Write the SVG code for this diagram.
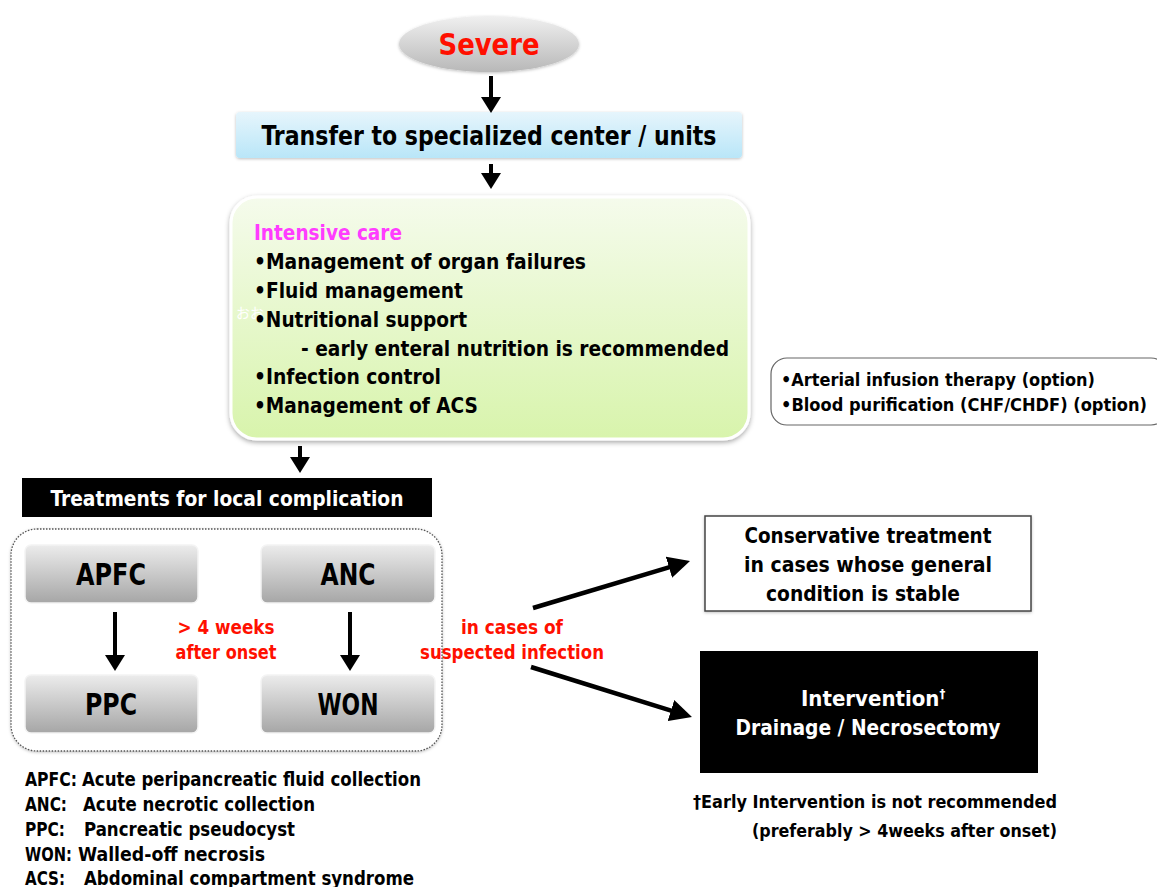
<svg xmlns="http://www.w3.org/2000/svg" width="1157" height="887" viewBox="0 0 1157 887">
<defs>
<linearGradient id="gEll" x1="0" y1="0" x2="0" y2="1"><stop offset="0" stop-color="#f0f0f0"/><stop offset="1" stop-color="#b8b8b8"/></linearGradient>
<linearGradient id="gBlue" x1="0" y1="0" x2="0" y2="1"><stop offset="0" stop-color="#e6f5fc"/><stop offset="1" stop-color="#b9e6f8"/></linearGradient>
<linearGradient id="gGreen" x1="0" y1="0" x2="0" y2="1"><stop offset="0" stop-color="#f5fbec"/><stop offset="1" stop-color="#d8f4ac"/></linearGradient>
<linearGradient id="gGray" x1="0" y1="0" x2="0" y2="1"><stop offset="0" stop-color="#ececec"/><stop offset="1" stop-color="#a6a6a6"/></linearGradient>
<filter id="sh" x="-10%" y="-10%" width="120%" height="130%"><feDropShadow dx="0" dy="2" stdDeviation="2.5" flood-color="#000" flood-opacity="0.35"/></filter>
<filter id="sh2" x="-10%" y="-10%" width="120%" height="130%"><feDropShadow dx="0" dy="1" stdDeviation="1.5" flood-color="#000" flood-opacity="0.25"/></filter>
<marker id="ah" markerUnits="userSpaceOnUse" markerWidth="20" markerHeight="20" refX="4" refY="10" orient="auto"><path d="M0,0 L16,10 L0,20 z" fill="#000"/></marker>
<marker id="ah2" markerUnits="userSpaceOnUse" markerWidth="24" markerHeight="24" refX="6" refY="12" orient="auto"><path d="M0,1 L22,12 L0,23 z" fill="#000"/></marker>
<style>
text{font-family:"Liberation Sans Narrow","DejaVu Sans Condensed","Liberation Sans",sans-serif;font-weight:bold;}
.c{text-anchor:middle;}
.red{fill:#ff1000;}
.wh{fill:#fff;}
.arr{stroke:#000;stroke-width:4;fill:none;marker-end:url(#ah);}
.darr{stroke:#000;stroke-width:4.5;fill:none;marker-end:url(#ah2);}
.gbox{fill:url(#gGray);stroke:#f4f4f4;stroke-width:1.5;}
</style>
</defs>
<rect width="1157" height="887" fill="#fff"/>

<g id="severe">
<ellipse cx="489" cy="44" rx="90" ry="28" fill="url(#gEll)" filter="url(#sh2)"/>
<text class="c red" x="489" y="55" font-size="31" textLength="101" lengthAdjust="spacingAndGlyphs">Severe</text>
</g>

<g id="transfer">
<rect x="236" y="112" width="506" height="46" rx="4" fill="url(#gBlue)" filter="url(#sh2)"/>
<text class="c" x="489" y="145" font-size="26" textLength="455" lengthAdjust="spacingAndGlyphs">Transfer to specialized center / units</text>
</g>

<g id="intensive">
<rect x="231" y="197" width="518" height="242" rx="26" fill="url(#gGreen)" stroke="#fff" stroke-width="3" filter="url(#sh)"/>
<text x="254" y="240" font-size="21" fill="#ff3cff" textLength="148" lengthAdjust="spacingAndGlyphs">Intensive care</text>
<text x="254" y="269" font-size="21" textLength="332" lengthAdjust="spacingAndGlyphs">•Management of organ failures</text>
<text x="254" y="298" font-size="21" textLength="209" lengthAdjust="spacingAndGlyphs">•Fluid management</text>
<text x="236" y="318" font-size="14" fill="#fff" style="font-family:'Noto Sans CJK JP',sans-serif;font-weight:normal">おお</text>
<text x="254" y="327" font-size="21" textLength="213" lengthAdjust="spacingAndGlyphs">•Nutritional support</text>
<text x="301" y="356" font-size="21" textLength="428" lengthAdjust="spacingAndGlyphs">- early enteral nutrition is recommended</text>
<text x="254" y="384" font-size="21" textLength="187" lengthAdjust="spacingAndGlyphs">•Infection control</text>
<text x="254" y="413" font-size="21" textLength="224" lengthAdjust="spacingAndGlyphs">•Management of ACS</text>
</g>

<g id="options">
<rect x="771" y="358" width="396" height="67" rx="16" fill="#fff" stroke="#666" stroke-width="1.2"/>
<text x="781" y="386" font-size="18" textLength="314" lengthAdjust="spacingAndGlyphs">•Arterial infusion therapy (option)</text>
<text x="781" y="411" font-size="18" textLength="366" lengthAdjust="spacingAndGlyphs">•Blood purification (CHF/CHDF) (option)</text>
</g>

<g id="local-header">
<rect x="22" y="478" width="410" height="39" fill="#000"/>
<text class="c wh" x="227" y="506" font-size="22" textLength="353" lengthAdjust="spacingAndGlyphs">Treatments for local complication</text>
</g>

<g id="local-group">
<rect x="11" y="529" width="431" height="222" rx="26" fill="#fff" stroke="#555" stroke-width="1.3" stroke-dasharray="1.5 1.5" filter="url(#sh2)"/>
</g>

<g id="apfc">
<rect class="gbox" x="25" y="545" width="173" height="58" rx="6"/>
<text class="c" x="111" y="585" font-size="30" textLength="70" lengthAdjust="spacingAndGlyphs">APFC</text>
</g>
<g id="anc">
<rect class="gbox" x="261" y="545" width="174" height="58" rx="6"/>
<text class="c" x="348" y="585" font-size="30" textLength="55" lengthAdjust="spacingAndGlyphs">ANC</text>
</g>
<g id="ppc">
<rect class="gbox" x="25" y="675" width="173" height="58" rx="6"/>
<text class="c" x="111" y="715" font-size="30" textLength="52" lengthAdjust="spacingAndGlyphs">PPC</text>
</g>
<g id="won">
<rect class="gbox" x="261" y="675" width="174" height="58" rx="6"/>
<text class="c" x="348" y="715" font-size="30" textLength="61" lengthAdjust="spacingAndGlyphs">WON</text>
</g>

<g id="label-4weeks">
<text class="c red" x="226" y="634" font-size="19" textLength="97" lengthAdjust="spacingAndGlyphs">&gt; 4 weeks</text>
<text class="c red" x="226" y="659" font-size="19" textLength="101" lengthAdjust="spacingAndGlyphs">after onset</text>
</g>

<g id="label-infection">
<text class="c red" x="512" y="634" font-size="19" textLength="102" lengthAdjust="spacingAndGlyphs">in cases of</text>
<text class="c red" x="512" y="659" font-size="19" textLength="184" lengthAdjust="spacingAndGlyphs">suspected infection</text>
</g>

<g id="conservative">
<rect x="705" y="516" width="326" height="95" fill="#fff" stroke="#444" stroke-width="1.5" filter="url(#sh2)"/>
<text class="c" x="868" y="543" font-size="22" textLength="247" lengthAdjust="spacingAndGlyphs">Conservative treatment</text>
<text class="c" x="868" y="572" font-size="22" textLength="248" lengthAdjust="spacingAndGlyphs">in cases whose general</text>
<text class="c" x="863" y="601" font-size="22" textLength="194" lengthAdjust="spacingAndGlyphs">condition is stable</text>
</g>

<g id="intervention">
<rect x="700" y="651" width="338" height="122" fill="#000"/>
<text x="801" y="706" font-size="22" class="wh">Intervention<tspan font-size="13" dy="-8">†</tspan></text>
<text class="c wh" x="868" y="735" font-size="22" textLength="265" lengthAdjust="spacingAndGlyphs">Drainage / Necrosectomy</text>
</g>

<g id="footnote">
<text x="693" y="808" font-size="18" textLength="364" lengthAdjust="spacingAndGlyphs">†Early Intervention is not recommended</text>
<text x="752" y="837" font-size="18" textLength="305" lengthAdjust="spacingAndGlyphs">(preferably &gt; 4weeks after onset)</text>
</g>

<g id="legend">
<text x="25" y="786" font-size="19" textLength="52" lengthAdjust="spacingAndGlyphs">APFC:</text>
<text x="82" y="786" font-size="19" textLength="339" lengthAdjust="spacingAndGlyphs">Acute peripancreatic fluid collection</text>
<text x="25" y="811" font-size="19" textLength="42" lengthAdjust="spacingAndGlyphs">ANC:</text>
<text x="83" y="811" font-size="19" textLength="232" lengthAdjust="spacingAndGlyphs">Acute necrotic collection</text>
<text x="25" y="836" font-size="19" textLength="40" lengthAdjust="spacingAndGlyphs">PPC:</text>
<text x="84" y="836" font-size="19" textLength="211" lengthAdjust="spacingAndGlyphs">Pancreatic pseudocyst</text>
<text x="25" y="861" font-size="19" textLength="47" lengthAdjust="spacingAndGlyphs">WON:</text>
<text x="78" y="861" font-size="19" textLength="187" lengthAdjust="spacingAndGlyphs">Walled-off necrosis</text>
<text x="25" y="885" font-size="19" textLength="40" lengthAdjust="spacingAndGlyphs">ACS:</text>
<text x="84" y="885" font-size="19" textLength="330" lengthAdjust="spacingAndGlyphs">Abdominal compartment syndrome</text>
</g>

<g id="connectors">
<line class="arr" x1="491" y1="76" x2="491" y2="101"/>
<line class="arr" x1="491" y1="164" x2="491" y2="177"/>
<line class="arr" x1="300" y1="446" x2="300" y2="461"/>
<line class="arr" x1="115" y1="612" x2="115" y2="659"/>
<line class="arr" x1="350" y1="612" x2="350" y2="659"/>
<line class="darr" x1="533" y1="608" x2="674.7" y2="565.6"/>
<line class="darr" x1="531" y1="667" x2="676.7" y2="712.3"/>
</g>
</svg>
